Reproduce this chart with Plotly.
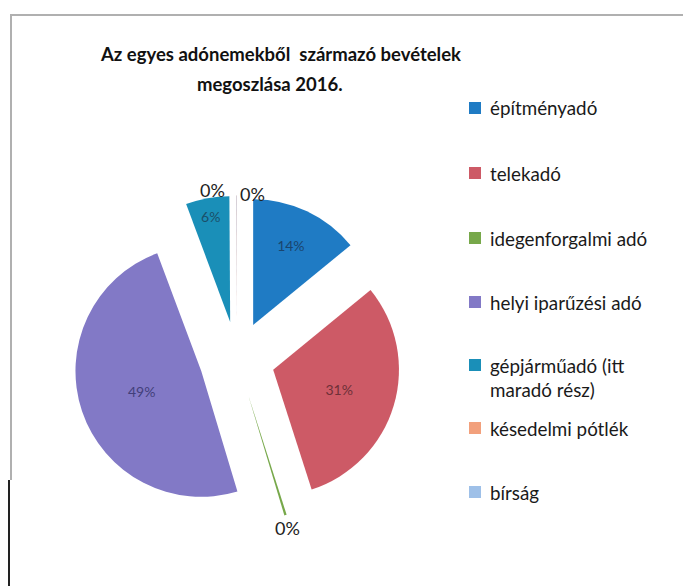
import plotly.graph_objects as go

# Revenue shares by tax type, 2016 (percent)
categories = ['építményadó', 'telekadó', 'idegenforgalmi adó', 'helyi iparűzési adó',
              'gépjárműadó (itt<br>maradó rész)', 'késedelmi pótlék', 'bírság']
shares = [14.1, 31.0, 0.3, 49.0, 5.6, 0.05, 0.05]

slice_colors = ['#1f7bc4', '#cd5a66', '#77a84a', '#8279c6', '#1a8fb8', '#f2a07c', '#9ec0e8']
label_colors = ['#1a456e', '#6e3038', '#222222', '#423f7a', '#1a4f6a', '#222222', '#222222']
text_pos = ['inside', 'inside', 'none', 'inside', 'inside', 'none', 'none']

W, H = 691, 586
OX, OY = 8, 8  # body margin of the html page


def fx(x):
    # target pixel in the picture -> paper x
    return (x - OX) / W


def fy(y):
    # target pixel in the picture -> paper y
    return 1 - (y - OY) / H


total = sum(shares)
pct = [f'{round(v / total * 100)}%' for v in shares]

# pie box: centre in picture pixels, side in pixels
cx, cy, side = fx(237), fy(359), 327
half_x, half_y = side / 2 / W, side / 2 / H

fig = go.Figure()

fig.add_trace(go.Pie(
    labels=categories,
    values=shares,
    sort=False,
    direction='clockwise',
    rotation=0,
    pull=[0.3] * len(shares),
    marker=dict(colors=slice_colors, line=dict(width=0)),
    texttemplate='%{percent:.0%}',
    textposition=text_pos,
    insidetextorientation='horizontal',
    insidetextfont=dict(family='Lato', size=14, color=label_colors),
    domain=dict(x=[cx - half_x, cx + half_x], y=[cy - half_y, cy + half_y]),
    showlegend=False,
    hoverinfo='label+percent',
))

shapes = []
annotations = []

# title, two lines as in the original
for line, xx, yy in zip(['Az egyes adónemekből  származó bevételek', 'megoszlása 2016.'],
                        [280, 270], [54, 84]):
    annotations.append(dict(xref='paper', yref='paper', x=fx(xx), y=fy(yy),
                            xanchor='center', yanchor='middle', showarrow=False,
                            text=f'<b>{line}</b>',
                            font=dict(family='Lato', size=18.5, color='#111111')))

# labels of the three near-zero slices, placed as in the original
for i, xx, yy in [(2, 287, 528), (5, 212, 190), (6, 252, 194)]:
    annotations.append(dict(xref='paper', yref='paper', x=fx(xx), y=fy(yy),
                            xanchor='center', yanchor='middle', showarrow=False,
                            text=pct[i], font=dict(family='Lato', size=18, color='#222222')))

# hand-drawn legend, so the wide spacing of the original can be kept
text_y = [108, 173, 238, 302, 377, 428, 492]
mark_y = [108, 173, 238, 302, 365, 428, 492]
for name, col, ty, my in zip(categories, slice_colors, text_y, mark_y):
    shapes.append(dict(type='rect', xref='paper', yref='paper',
                       x0=fx(469), x1=fx(481), y0=fy(my + 6), y1=fy(my - 6),
                       fillcolor=col, line=dict(width=0)))
    annotations.append(dict(xref='paper', yref='paper', x=fx(488), y=fy(ty),
                            xanchor='left', yanchor='middle', align='left',
                            text=name, showarrow=False,
                            font=dict(family='Lato', size=18.8, color='#1a1a1a')))

# frame lines of the scanned chart area
shapes.append(dict(type='line', xref='paper', yref='paper', x0=fx(10), x1=1, y0=fy(15), y1=fy(15),
                   line=dict(color='#b0b0b0', width=2)))
shapes.append(dict(type='line', xref='paper', yref='paper', x0=fx(11), x1=fx(11), y0=fy(15), y1=fy(480),
                   line=dict(color='#b0b0b0', width=2)))
shapes.append(dict(type='line', xref='paper', yref='paper', x0=fx(9), x1=fx(9), y0=fy(480), y1=0,
                   line=dict(color='#222222', width=2)))

fig.update_layout(
    width=W,
    height=H,
    margin=dict(l=0, r=0, t=0, b=0),
    paper_bgcolor='white',
    plot_bgcolor='white',
    shapes=shapes,
    annotations=annotations,
)

fig.write_html('out.html')
